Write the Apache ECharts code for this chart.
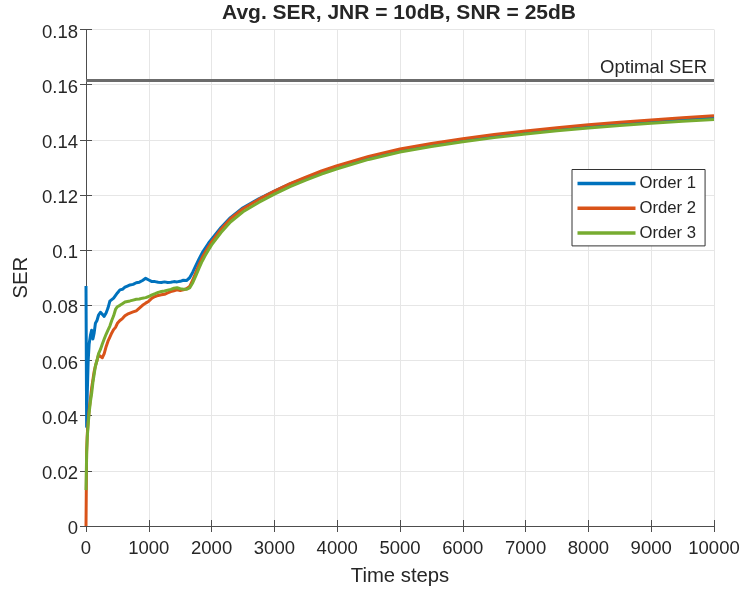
<!DOCTYPE html>
<html>
<head>
<meta charset="utf-8">
<script src="https://cdn.jsdelivr.net/npm/echarts@6/dist/echarts.min.js"></script>
<style>
  html, body { margin: 0; padding: 0; background: #fff; }
  #chart { width: 742px; height: 591px; }
</style>
</head>
<body>
<div id="chart"></div>
<script>
// Time axis shared by the three averaged SER curves
const steps = [0, 10, 20, 35, 50, 70, 90, 110, 130, 150, 175, 200, 230, 260, 290, 320, 350, 380, 410, 440,
  470, 500, 540, 580, 620, 660, 700, 750, 800, 850, 900, 950, 1000, 1050, 1100, 1150, 1200, 1250, 1300, 1350,
  1400, 1450, 1500, 1550, 1600, 1650, 1700, 1750, 1800, 1850, 1900, 1950, 2000, 2150, 2300, 2500, 2750, 3000, 3250, 3500,
  3750, 4000, 4500, 5000, 5500, 6000, 6500, 7000, 7500, 8000, 8500, 9000, 9500, 10000];

const order1 = [0.087, 0.036, 0.048, 0.060, 0.066, 0.069, 0.071, 0.0678, 0.070, 0.0735, 0.0745, 0.0765, 0.0775, 0.0770, 0.0760, 0.0772, 0.0790, 0.0815, 0.0822, 0.0826,
  0.0830, 0.0845, 0.0856, 0.0858, 0.0866, 0.0870, 0.0874, 0.0876, 0.0882, 0.0884, 0.0890, 0.0898, 0.0892, 0.0886, 0.0886, 0.0884, 0.0883, 0.0885, 0.0883, 0.0884,
  0.0886, 0.0885, 0.0887, 0.0891, 0.0890, 0.0900, 0.0920, 0.0945, 0.0968, 0.0990, 0.1008, 0.1025, 0.1040, 0.1082, 0.1118, 0.1154, 0.1186, 0.1214, 0.1240, 0.1262,
  0.1283, 0.1302, 0.1336, 0.1363, 0.1383, 0.1400, 0.1414, 0.1428, 0.1440, 0.1450, 0.1458, 0.1466, 0.1474, 0.1481];

const order2 = [0.0, 0.027, 0.033, 0.038, 0.042, 0.046, 0.050, 0.053, 0.056, 0.058, 0.060, 0.062, 0.0615, 0.061, 0.0625, 0.065, 0.067, 0.0685, 0.070, 0.0712,
  0.072, 0.0735, 0.0745, 0.0752, 0.0762, 0.0768, 0.0772, 0.0776, 0.0780, 0.0790, 0.0800, 0.0808, 0.0815, 0.0826, 0.0832, 0.0836, 0.0838, 0.0840, 0.0845, 0.0850,
  0.0853, 0.0856, 0.0854, 0.0856, 0.0860, 0.0868, 0.0892, 0.0920, 0.0948, 0.0973, 0.0993, 0.1012, 0.1030, 0.1076, 0.1114, 0.1150, 0.1184, 0.1214, 0.1241, 0.1265,
  0.1287, 0.1306, 0.1340, 0.1367, 0.1387, 0.1404, 0.1419, 0.1432, 0.1444, 0.1455, 0.1464, 0.1472, 0.1480, 0.1487];

const order3 = [0.013, 0.026, 0.032, 0.037, 0.041, 0.045, 0.048, 0.052, 0.055, 0.058, 0.060, 0.0625, 0.064, 0.066, 0.0678, 0.0695, 0.071, 0.0725, 0.0745, 0.0762,
  0.0785, 0.0795, 0.0800, 0.0806, 0.0812, 0.0814, 0.0816, 0.0819, 0.0822, 0.0823, 0.0826, 0.0828, 0.0832, 0.0838, 0.0842, 0.0847, 0.0850, 0.0852, 0.0855, 0.0858,
  0.0862, 0.0864, 0.0860, 0.0858, 0.0858, 0.0863, 0.0882, 0.0908, 0.0935, 0.0960, 0.0981, 0.1001, 0.1019, 0.1064, 0.1102, 0.1139, 0.1173, 0.1203, 0.1230, 0.1254,
  0.1276, 0.1295, 0.1329, 0.1356, 0.1376, 0.1393, 0.1408, 0.1421, 0.1433, 0.1443, 0.1452, 0.1460, 0.1467, 0.1474];

const seriesNames = ['Order 1', 'Order 2', 'Order 3'];
const seriesColors = ['#0072BD', '#D95319', '#77AC30'];
const optimalSER = 0.1615;

const FONT = "'Liberation Sans', Arial, Helvetica, sans-serif";
const TXT = '#262626';
const AXIS = '#4d4d4d';

const pairs = vals => steps.map((t, i) => [t, vals[i]]);

const chart = echarts.init(document.getElementById('chart'), null, { renderer: 'canvas' });

const boxAxis = {
  axisLine: { show: true, lineStyle: { color: AXIS, width: 1 } },
  axisTick: { show: true, inside: true, length: 6, lineStyle: { color: AXIS } },
  axisLabel: { show: false },
  splitLine: { show: false }
};

chart.setOption({
  animation: false,
  backgroundColor: '#fff',
  textStyle: { fontFamily: FONT },
  title: {
    text: 'Avg. SER, JNR = 10dB, SNR = 25dB',
    left: 222, top: 3, padding: 0,
    textStyle: { fontFamily: FONT, fontSize: 21, fontWeight: 'bold', color: TXT }
  },
  grid: { left: 86, right: 28, top: 29.5, bottom: 65, containLabel: false, outerBoundsMode: 'none' },
  legend: {
    data: seriesNames,
    orient: 'vertical',
    left: 572, top: 169.5,
    icon: 'rect',
    itemWidth: 58, itemHeight: 3.5,
    itemGap: 4.7,
    padding: [4, 9, 3, 5.5],
    backgroundColor: '#fff',
    borderColor: '#333',
    borderWidth: 1,
    borderRadius: 0,
    textStyle: { fontFamily: FONT, fontSize: 16.7, color: TXT, lineHeight: 20, padding: [0, 0, 0, -1] }
  },
  xAxis: [{
    type: 'value', min: 0, max: 10000, interval: 1000,
    name: 'Time steps', nameLocation: 'middle', nameGap: 40,
    nameTextStyle: { fontFamily: FONT, fontSize: 20.3, color: TXT },
    axisLine: { show: true, lineStyle: { color: AXIS, width: 1 } },
    axisTick: { show: true, inside: true, length: 6, lineStyle: { color: AXIS } },
    axisLabel: { fontFamily: FONT, fontSize: 18.5, color: TXT, margin: 13, formatter: v => String(v) },
    splitLine: { show: true, lineStyle: { color: '#e6e6e6', width: 1 } }
  }, Object.assign({ type: 'value', position: 'top', min: 0, max: 10000, interval: 1000 }, boxAxis)],
  yAxis: [{
    type: 'value', min: 0, max: 0.18, interval: 0.02,
    name: 'SER', nameLocation: 'middle', nameGap: 55, nameRotate: 90,
    nameTextStyle: { fontFamily: FONT, fontSize: 20.3, color: TXT },
    axisLine: { show: true, lineStyle: { color: AXIS, width: 1 } },
    axisTick: { show: true, inside: true, length: 6, lineStyle: { color: AXIS } },
    axisLabel: {
      fontFamily: FONT, fontSize: 18.5, color: TXT, margin: 8,
      verticalAlign: 'top', lineHeight: 6,
      formatter: v => String(parseFloat(v.toFixed(2)))
    },
    splitLine: { show: true, lineStyle: { color: '#e6e6e6', width: 1 } }
  }, Object.assign({ type: 'value', position: 'right', min: 0, max: 0.18, interval: 0.02 }, boxAxis)],
  series: [
    {
      name: 'Optimal SER', type: 'line', data: [], silent: true,
      markLine: {
        silent: true, symbol: 'none', animation: false, precision: 4,
        lineStyle: { color: '#6b6b6b', width: 3, type: 'solid' },
        label: {
          show: true, position: 'insideEndTop', formatter: 'Optimal SER',
          fontFamily: FONT, fontSize: 18.5, color: TXT, distance: [7, 3]
        },
        data: [{ yAxis: optimalSER }]
      }
    },
    ...seriesNames.map((name, k) => ({
      name, type: 'line',
      data: pairs([order1, order2, order3][k]),
      showSymbol: false, symbol: 'none',
      lineStyle: { color: seriesColors[k], width: 3, join: 'round' },
      itemStyle: { color: seriesColors[k] },
      z: 3 + k
    }))
  ]
});
</script>
</body>
</html>
